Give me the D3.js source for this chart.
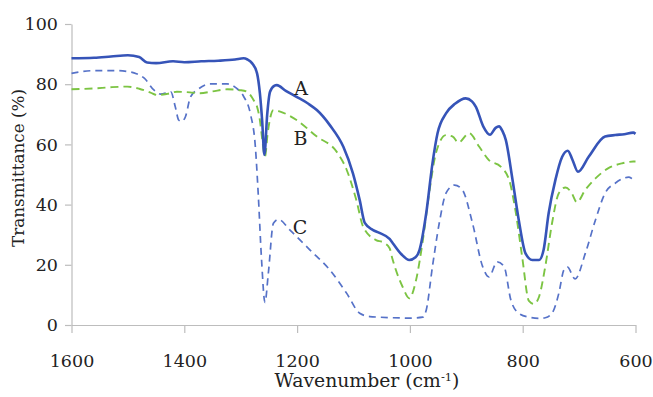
<!DOCTYPE html>
<html>
<head>
<meta charset="utf-8">
<script src="https://cdn.jsdelivr.net/npm/d3@7"></script>
<style>
  html, body { margin: 0; padding: 0; background: #fff; }
  svg { display: block; }
  text { font-family: "DejaVu Serif", "Liberation Serif", serif; fill: #222; }
</style>
</head>
<body>
<svg id="chart" width="653" height="397"></svg>
<script>
// FTIR spectra: transmittance (%) against wavenumber (cm-1)
const waveA = [1600,1560,1530,1500,1480,1466,1450,1420,1400,1370,1340,1310,1295,1288,1280,1271,1266,1262,1258,1253,1248,1240,1236,1220,1201,1180,1165,1142,1118,1101,1089,1080,1066,1054,1036,1030,1015,1001,990,983,971,960,951,936,920,901,890,883,870,858,848,842,836,830,818,807,795,783,771,763,754,742,730,720,712,702,683,654,636,620,604,600];
const transA = [88.6,88.8,89.2,89.6,89.0,87.2,87.0,87.6,87.3,87.6,87.8,88.2,88.6,88.2,87.0,83.6,77.0,68.0,56.5,70.0,77.5,79.5,79.7,77.8,75.8,73.5,71.4,66.4,59.2,50.4,41.5,33.9,31.6,30.6,28.6,27.1,23.5,21.6,22.5,24.9,37.2,53.7,63.7,70.3,73.5,75.3,74.3,72.5,66.0,63.2,65.5,66.0,64.5,61.5,48.2,34.9,23.8,21.6,21.6,24.9,37.1,48.2,55.9,57.9,55.0,50.9,55.9,62.6,63.1,63.4,63.9,63.5];

const waveB = [1600,1560,1530,1501,1480,1460,1448,1430,1413,1390,1372,1350,1324,1300,1289,1277,1271,1266,1262,1257,1252,1242,1230,1201,1165,1130,1112,1095,1083,1060,1048,1036,1031,1013,1001,989,977,965,954,936,924,914,895,877,860,839,824,812,801,789,780,771,760,748,736,724,713,704,689,671,648,624,604,600];
const transB = [78.3,78.6,79.0,79.2,78.5,77.2,76.4,76.8,77.5,77.3,77.0,77.6,78.3,78.0,77.5,74.7,72.5,68.1,62.0,56.0,64.0,71.4,70.9,68.1,62.6,57.6,51.5,41.5,32.7,28.2,27.5,25.5,22.0,12.7,8.9,15.0,28.2,44.9,57.0,63.1,62.6,60.6,63.7,59.2,54.8,52.6,48.2,37.1,22.7,8.0,7.0,9.4,19.4,33.8,43.8,45.7,43.8,40.8,44.9,48.7,52.1,53.7,54.3,54.3];

const waveC = [1600,1560,1520,1501,1485,1471,1454,1442,1430,1424,1416,1410,1405,1398,1389,1377,1354,1324,1307,1295,1283,1274,1269,1263,1257,1251,1242,1233,1213,1177,1142,1112,1089,1071,1054,1000,977,971,960,948,936,921,907,889,871,860,845,833,821,807,789,770,760,748,736,727,721,707,689,671,654,636,612,604,600];
const transC = [83.6,84.5,84.5,84.2,83.5,82.0,78.1,76.7,77.2,77.5,72.5,68.1,67.6,69.2,75.8,78.1,80.1,80.1,78.6,76.0,70.3,59.2,43.8,21.6,7.5,17.2,33.8,35.1,31.6,24.9,18.3,10.5,3.9,2.8,2.6,2.3,2.6,5.0,19.4,33.8,43.8,46.5,44.9,33.8,19.4,16.0,21.0,19.4,8.3,3.9,2.6,2.2,2.4,3.9,10.5,18.3,19.3,15.3,23.8,34.9,43.8,47.1,49.1,48.4,48.2];

const xTicks = [1600, 1400, 1200, 1000, 800, 600];
const yTicks = [0, 20, 40, 60, 80, 100];

// Curve labels placed at a wavenumber / transmittance position
const labelNames = ["A", "B", "C"];
const labelWave = [1193, 1194, 1195];
const labelTrans = [78.6, 62.0, 32.7];

const svg = d3.select("#chart");
const x = d3.scaleLinear().domain([1600, 600]).range([71.5, 635.5]);
const y = d3.scaleLinear().domain([0, 100]).range([325, 24]);

const axisColor = "#bdbdbd";
const fmt = d3.format("d");

// y axis
const gy = svg.append("g").attr("transform", `translate(${x(1600)},0)`)
  .call(d3.axisLeft(y).tickValues(yTicks).tickFormat(fmt).tickSize(6.5).tickSizeOuter(0).tickPadding(7));
gy.select(".domain").attr("stroke", axisColor).attr("stroke-width", 1.2);
gy.selectAll(".tick line").attr("stroke", axisColor).attr("stroke-width", 1.2);
gy.selectAll(".tick text").attr("font-size", 17.5).attr("font-family", "DejaVu Serif").attr("fill", "#222");

// x axis
const gx = svg.append("g").attr("transform", `translate(0,${y(0)})`)
  .call(d3.axisBottom(x).tickValues(xTicks).tickFormat(fmt).tickSize(8).tickSizeOuter(0).tickPadding(22));
gx.select(".domain").attr("stroke", axisColor).attr("stroke-width", 1.2);
gx.selectAll(".tick line").attr("stroke", axisColor).attr("stroke-width", 1.2);
gx.selectAll(".tick text").attr("font-size", 17.5).attr("font-family", "DejaVu Serif").attr("fill", "#222");

// axis titles
svg.append("text")
  .attr("transform", `translate(24,168) rotate(-90)`)
  .attr("text-anchor", "middle")
  .attr("font-size", 16.8)
  .text("Transmittance (%)");

const xt = svg.append("text")
  .attr("x", 367).attr("y", 387)
  .attr("text-anchor", "middle")
  .attr("font-size", 18.8);
xt.append("tspan").text("Wavenumber (cm");
xt.append("tspan").attr("font-size", 11.5).attr("dy", -6).text("-1");
xt.append("tspan").attr("dy", 6).text(")");

// spectra
const line = d3.line()
  .x(d => x(d[0]))
  .y(d => y(d[1]))
  .curve(d3.curveMonotoneX);

const zip = (w, t) => w.map((v, i) => [v, t[i]]);

svg.append("path").datum(zip(waveC, transC))
  .attr("fill", "none").attr("stroke", "#5672c8").attr("stroke-width", 1.7)
  .attr("stroke-dasharray", "7,5").attr("d", line);

svg.append("path").datum(zip(waveB, transB))
  .attr("fill", "none").attr("stroke", "#7cc443").attr("stroke-width", 1.9)
  .attr("stroke-dasharray", "8,5").attr("d", line);

svg.append("path").datum(zip(waveA, transA))
  .attr("fill", "none").attr("stroke", "#3654b8").attr("stroke-width", 2.6)
  .attr("d", line);

// curve labels
svg.selectAll("text.curve-label")
  .data(labelNames)
  .join("text")
  .attr("class", "curve-label")
  .attr("x", (d, i) => x(labelWave[i]))
  .attr("y", (d, i) => y(labelTrans[i]))
  .attr("text-anchor", "middle")
  .attr("dominant-baseline", "central")
  .attr("font-size", 19)
  .text(d => d);
</script>
</body>
</html>
